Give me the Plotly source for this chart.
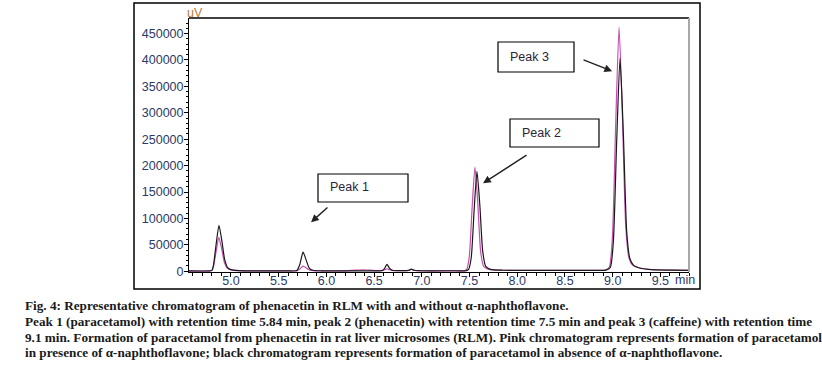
import plotly.graph_objects as go

# ---- data ----
black_t = [4.56, 4.78, 4.80, 4.815, 4.845, 4.874, 4.904, 4.934, 4.965, 5.00, 5.08, 5.30, 5.60,
           5.69, 5.72, 5.755, 5.79, 5.82, 5.86, 5.95, 6.30, 6.45, 6.59, 6.615, 6.635, 6.66, 6.69,
           6.80, 6.86, 6.89, 6.92, 7.00, 7.30, 7.47, 7.49, 7.518, 7.548, 7.578, 7.608, 7.638,
           7.67, 7.72, 7.85, 8.30, 8.80, 8.93, 8.975, 9.007, 9.042, 9.077, 9.112, 9.147, 9.18,
           9.22, 9.28, 9.40, 9.60, 9.80]
black_v = [500, 600, 1500, 10000, 52000, 87000, 58000, 22000, 7000, 3000, 1200, 700, 600,
           1200, 12000, 36000, 20000, 6000, 1800, 800, 700, 800, 1200, 7000, 13000, 6000, 1800,
           1000, 1500, 4000, 1800, 900, 900, 1200, 3500, 26000, 115000, 189000, 125000, 38000,
           9000, 3500, 1800, 1500, 1600, 2000, 7000, 55000, 245000, 403000, 260000, 75000, 24000,
           11000, 6000, 3000, 2000, 1500]

pink_t = [4.56, 4.78, 4.80, 4.815, 4.845, 4.872, 4.902, 4.932, 4.963, 5.00, 5.08, 5.30, 5.60,
          5.69, 5.72, 5.755, 5.79, 5.82, 5.86, 5.95, 6.20, 6.30, 6.38, 6.46, 6.55, 6.615, 6.635,
          6.66, 6.70, 6.80, 6.86, 6.89, 6.92, 7.00, 7.30, 7.45, 7.47, 7.497, 7.527, 7.557, 7.587,
          7.617, 7.65, 7.70, 7.85, 8.30, 8.80, 8.92, 8.965, 8.997, 9.032, 9.067, 9.102, 9.137,
          9.17, 9.21, 9.28, 9.40, 9.60, 9.80]
pink_v = [300, 400, 1200, 8000, 38000, 64000, 43000, 16000, 5500, 2500, 1000, 500, 500,
          700, 4000, 9500, 6000, 2500, 1000, 600, 700, 2000, 2800, 2000, 1000, 3000, 4500,
          3000, 1200, 900, 1300, 3500, 1600, 800, 800, 1200, 3500, 27000, 120000, 197000, 128000,
          36000, 8500, 3500, 1800, 1500, 1600, 2000, 8000, 63000, 280000, 462000, 295000, 85000,
          26000, 11500, 6500, 3200, 2000, 1500]

y_tick_vals = [0, 50000, 100000, 150000, 200000, 250000, 300000, 350000, 400000, 450000]
y_tick_text = ["0", "50000", "100000", "150000", "200000", "250000", "300000", "350000", "400000", "450000"]
x_tick_vals = [5.0, 5.5, 6.0, 6.5, 7.0, 7.5, 8.0, 8.5, 9.0, 9.5]
x_tick_text = ["5.0", "5.5", "6.0", "6.5", "7.0", "7.5", "8.0", "8.5", "9.0", "9.5"]

peak_labels = ["Peak 1", "Peak 2", "Peak 3"]
caption_lines = [
    "Fig. 4: Representative chromatogram of phenacetin in RLM with and without α-naphthoflavone.",
    "Peak 1 (paracetamol) with retention time 5.84 min, peak 2 (phenacetin) with retention time 7.5 min and peak 3 (caffeine) with retention time",
    "9.1 min. Formation of paracetamol from phenacetin in rat liver microsomes (RLM). Pink chromatogram represents formation of paracetamol",
    "in presence of α-naphthoflavone; black chromatogram represents formation of paracetamol in absence of α-naphthoflavone.",
]

# ---- layout geometry (pixels) ----
W, H = 822, 365
PL, PR, PT, PB = 189, 689, 18, 272


def px(x):
    return (x - PL) / (PR - PL)


def py(y):
    return (PB - y) / (PB - PT)


fig = go.Figure()
fig.add_trace(go.Scatter(x=pink_t, y=pink_v, mode="lines",
                         line=dict(color="#c24fb4", width=1.2, shape="spline", smoothing=0.6),
                         hoverinfo="skip", showlegend=False))
fig.add_trace(go.Scatter(x=black_t, y=black_v, mode="lines",
                         line=dict(color="#1a1a1a", width=1.2, shape="spline", smoothing=0.6),
                         hoverinfo="skip", showlegend=False))

tick_font = dict(family="Liberation Sans, Arial, sans-serif", size=12.5, color="#2b3a67")

fig.update_layout(
    width=W, height=H,
    margin=dict(l=PL, r=W - PR, t=PT, b=H - PB),
    paper_bgcolor="white", plot_bgcolor="white",
    xaxis=dict(range=[4.56, 9.80], tickvals=x_tick_vals, ticktext=x_tick_text,
               showgrid=False, zeroline=False, showline=True, linecolor="black", linewidth=1,
               ticks="outside", ticklen=4, tickcolor="black", tickfont=tick_font,
               ticklabelstandoff=-7,
               minor=dict(ticks="outside", ticklen=3, dtick=0.1, tick0=5.0, tickcolor="black")),
    yaxis=dict(range=[-1500, 479500], tickvals=y_tick_vals, ticktext=y_tick_text,
               showgrid=False, zeroline=False, showline=True, linecolor="black", linewidth=1,
               ticks="outside", ticklen=4, tickcolor="black", tickfont=tick_font,
               ticklabelstandoff=-2,
               minor=dict(ticks="outside", ticklen=2, dtick=10000, tick0=0, tickcolor="black")),
)

shapes = []
# outer frame
shapes.append(dict(type="rect", xref="paper", yref="paper", x0=px(134), x1=px(700), y0=py(289), y1=py(3),
                   line=dict(color="black", width=1.5)))
# top frame of plot
shapes.append(dict(type="line", xref="paper", yref="paper", x0=0, x1=1, y0=1, y1=1,
                   line=dict(color="black", width=1.5)))
# right grey border
shapes.append(dict(type="line", xref="paper", yref="paper", x0=1, x1=1, y0=0, y1=1,
                   line=dict(color="#a8a8a8", width=2)))
# label boxes
boxes = [(318, 408, 174, 202), (510, 599, 119, 147), (498, 574, 42, 72)]
for (x0, x1, y0, y1) in boxes:
    shapes.append(dict(type="rect", xref="paper", yref="paper", x0=px(x0), x1=px(x1), y0=py(y1), y1=py(y0),
                       line=dict(color="black", width=1.2), fillcolor="white"))
fig.update_layout(shapes=shapes)

ann = []
label_pos = [(328, 187), (520, 133), (508, 57)]
for lab, (x, y) in zip(peak_labels, label_pos):
    ann.append(dict(text=lab, xref="paper", yref="paper", x=px(x), y=py(y), xanchor="left", yanchor="middle",
                    showarrow=False, font=dict(family="Liberation Sans, Arial, sans-serif", size=12.5, color="#2a2438")))

# arrows (tail -> head) in data coordinates
arrows = [((6.027, 123100), (5.839, 92800)),
          ((8.113, 221600), (7.642, 166700)),
          ((8.679, 401500), (8.994, 378800))]
for (tail, head) in arrows:
    ann.append(dict(text="", x=head[0], y=head[1], xref="x", yref="y",
                    ax=tail[0], ay=tail[1], axref="x", ayref="y",
                    showarrow=True, arrowhead=2, arrowsize=1.1, arrowwidth=1.4, arrowcolor="#222"))

ann.append(dict(text="uV", xref="paper", yref="paper", x=px(185), y=py(13), xanchor="left", yanchor="middle",
                showarrow=False, font=dict(family="Liberation Sans, Arial, sans-serif", size=12.5, color="#b87a3c")))
ann.append(dict(text="min", xref="paper", yref="paper", x=px(673), y=py(280), xanchor="left", yanchor="middle",
                showarrow=False, font=tick_font))

cap_y = [305, 321, 337, 353]
for line, y in zip(caption_lines, cap_y):
    ann.append(dict(text="<b>" + line + "</b>", xref="paper", yref="paper", x=px(23), y=py(y),
                    xanchor="left", yanchor="middle", showarrow=False,
                    font=dict(family="Liberation Serif, Times New Roman, serif", size=13.2, color="#1a1a1a")))

fig.update_layout(annotations=ann)

fig.write_html("out.html", config={"displayModeBar": False},
               post_script="document.body.style.margin='0';")
